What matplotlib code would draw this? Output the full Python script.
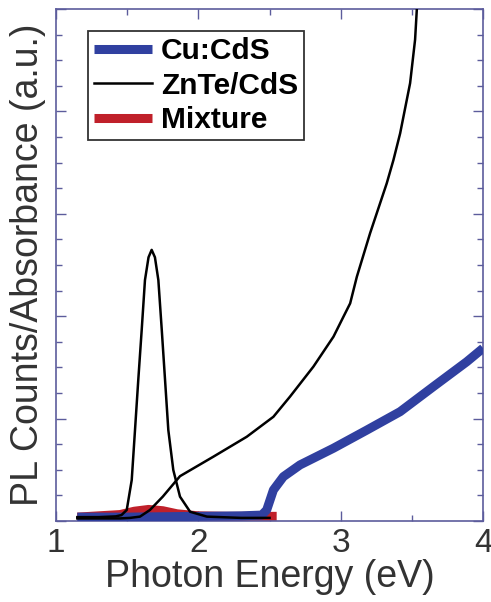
import matplotlib
matplotlib.use("Agg")
import matplotlib.pyplot as plt
from matplotlib.ticker import MultipleLocator, NullFormatter

plt.rcParams['font.family'] = ['Liberation Sans', 'DejaVu Sans']

# Cu:CdS absorbance (thick blue)
cu_x = [1.15, 1.5, 2.0, 2.3, 2.445, 2.48, 2.527, 2.597, 2.714, 2.948, 3.183, 3.417, 3.651, 3.885, 4.0]
cu_y = [0.15, 0.15, 0.18, 0.2, 0.23, 0.43, 1.21, 1.73, 2.19, 2.84, 3.55, 4.27, 5.25, 6.22, 6.75]

# ZnTe/CdS absorbance (thin black)
abs_x = [1.15, 1.3, 1.45, 1.52, 1.59, 1.66, 1.75, 1.871, 2.105, 2.34, 2.527, 2.644,
         2.808, 2.949, 3.019, 3.066, 3.113, 3.206, 3.323, 3.37, 3.417, 3.487, 3.522, 3.534]
abs_y = [0.1, 0.1, 0.1, 0.12, 0.17, 0.43, 0.95, 1.75, 2.51, 3.29, 4.07, 4.86,
         6.03, 7.2, 7.98, 8.5, 9.54, 11.24, 13.19, 14.1, 15.14, 17.1, 18.8, 19.96]

# ZnTe/CdS PL (thin black peak)
pl_x = [1.15, 1.3, 1.42, 1.46, 1.497, 1.532, 1.555, 1.578, 1.602, 1.625, 1.65, 1.672, 1.695,
        1.719, 1.743, 1.766, 1.789, 1.824, 1.871, 1.942, 2.06, 2.3, 2.5]
pl_y = [0.15, 0.15, 0.18, 0.23, 0.43, 1.6, 3.55, 5.51, 7.46, 9.41, 10.3, 10.59, 10.3,
        9.41, 7.46, 5.51, 3.55, 1.99, 0.95, 0.36, 0.17, 0.12, 0.12]

# Mixture PL (thick red)
mix_x = [1.15, 1.3, 1.45, 1.55, 1.65, 1.75, 1.85, 2.0, 2.2, 2.4, 2.55]
mix_y = [0.15, 0.2, 0.25, 0.38, 0.45, 0.4, 0.28, 0.2, 0.18, 0.18, 0.18]

spine_col = '#5c5c9c'

fig = plt.figure(figsize=(4.91, 6.02), dpi=100)
ax = fig.add_axes([0.114, 0.1346, 0.87, 0.8505])

ax.plot(mix_x, mix_y, color='#c0202a', lw=6.5, solid_capstyle='butt', zorder=2, label='Mixture')
ax.plot(cu_x, cu_y, color='#3040a0', lw=6.5, solid_capstyle='butt', zorder=3, label='Cu:CdS')
ax.plot(abs_x, abs_y, color='black', lw=1.8, zorder=4, label='ZnTe/CdS')
ax.plot(pl_x, pl_y, color='black', lw=1.8, zorder=4)

ax.set_xlim(1, 4)
ax.set_ylim(0, 20)
ax.xaxis.set_major_locator(MultipleLocator(1))
ax.xaxis.set_minor_locator(MultipleLocator(0.5))
ax.yaxis.set_major_locator(MultipleLocator(4))
ax.yaxis.set_minor_locator(MultipleLocator(1))
ax.yaxis.set_major_formatter(NullFormatter())

for s in ax.spines.values():
    s.set_color(spine_col)
    s.set_linewidth(1.2)
ax.tick_params(which='both', direction='in', top=True, right=True, color=spine_col,
               labelsize=24, labelcolor='#333333', pad=5)
ax.tick_params(which='major', length=7, width=1)
ax.tick_params(which='minor', length=4, width=1)

ax.set_xlabel('Photon Energy (eV)', fontsize=27, color='#333333', labelpad=0)
ax.set_ylabel('PL Counts/Absorbance (a.u.)', fontsize=27, color='#333333', labelpad=2)

h, l = ax.get_legend_handles_labels()
order = [1, 2, 0]
leg = ax.legend([h[i] for i in order], [l[i] for i in order], loc='upper left',
                bbox_to_anchor=(0.075, 0.957), prop={'weight': 'bold', 'size': 21.5},
                frameon=True, fancybox=False, edgecolor='black', handlelength=1.95,
                handletextpad=0.3, borderpad=0.2, labelspacing=0.22, borderaxespad=0)
leg.get_frame().set_linewidth(1.3)

fig.savefig('out.png', dpi=100)
